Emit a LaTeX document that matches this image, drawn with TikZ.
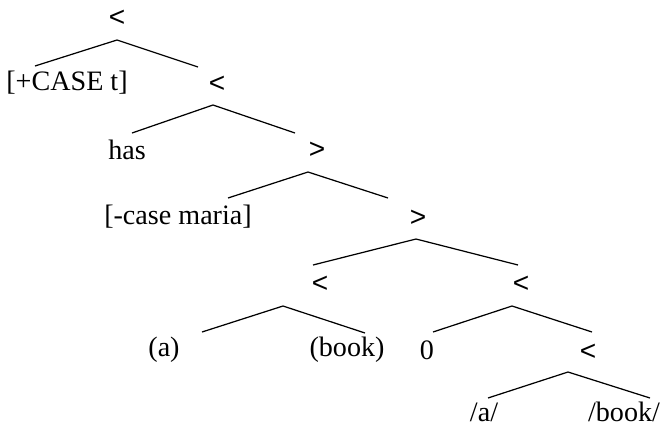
\documentclass[tikz,border=0pt]{standalone}
\usepackage{fontspec}
\setmainfont{Liberation Serif}
\newfontfamily\opfont{Liberation Sans}
\usetikzlibrary{positioning}

\begin{document}
\begin{tikzpicture}[x=0.02cm,y=-0.02cm,line width=.7pt,
    lbl/.style={font=\fontsize{16}{19}\selectfont, inner sep=0pt},
    op/.style={font=\fontsize{16}{19}\opfont, inner sep=0pt}]
    \useasboundingbox (0,0) rectangle (662,427);

    % node labels
    \node[op] (r1) at (117,18) {<};
    \node[lbl] (caset) at (67,83) {[+CASE t]};
    \node[op] (r2) at (217,84) {<};
    \node[lbl] (has) at (127,150) {has};
    \node[op] (r3) at (317,150) {>};
    \node[lbl] (maria) at (178,217) {[-case maria]};
    \node[op] (r4) at (418,218) {>};
    \node[op] (r5) at (320,284) {<};
    \node[op] (r6) at (521,284) {<};
    \node[lbl] (a) at (164,350) {(a)};
    \node[lbl] (book) at (347,350) {(book)};
    \node[lbl] (zero) at (427,350) {0};
    \node[op] (r7) at (588,352) {<};
    \node[lbl] (slasha) at (484,412) {/a/};
    \node[lbl] (slashbook) at (624,412) {/book/};

    % branch points
    \coordinate (t1) at (117,40);  \coordinate (t1l) at (35,66);   \coordinate (t1r) at (198,67);
    \coordinate (t2) at (213,105); \coordinate (t2l) at (132,133); \coordinate (t2r) at (295,133);
    \coordinate (t3) at (308,172); \coordinate (t3l) at (228,198); \coordinate (t3r) at (388,198);
    \coordinate (t4) at (416,239); \coordinate (t4l) at (313,265); \coordinate (t4r) at (518,265);
    \coordinate (t5) at (283,306); \coordinate (t5l) at (202,332); \coordinate (t5r) at (365,333);
    \coordinate (t6) at (512,306); \coordinate (t6l) at (433,332); \coordinate (t6r) at (592,332);
    \coordinate (t7) at (568,372); \coordinate (t7l) at (488,398); \coordinate (t7r) at (650,398);

    \foreach \apex in {t1,t2,t3,t4,t5,t6,t7}
    \draw (\apex l) -- (\apex) -- (\apex r);
\end{tikzpicture}
\end{document}
